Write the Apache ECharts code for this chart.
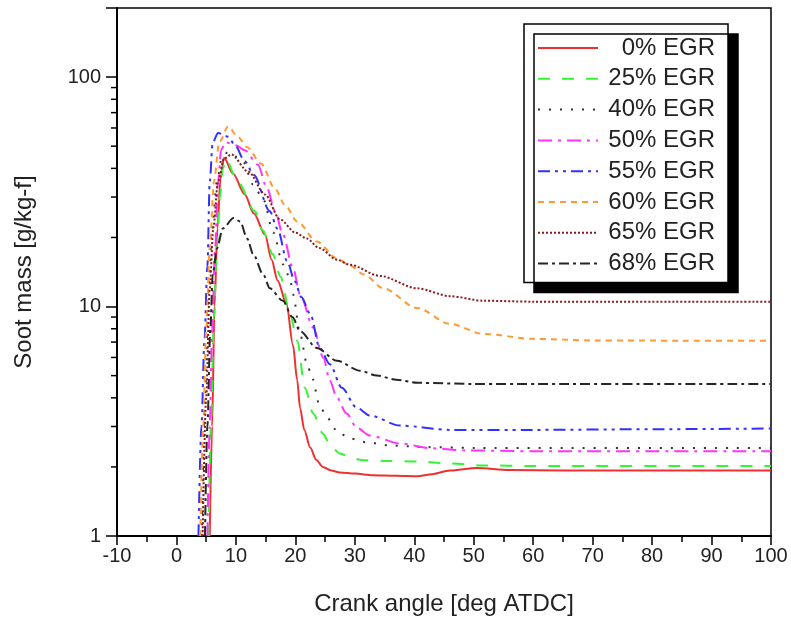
<!DOCTYPE html>
<html><head><meta charset="utf-8">
<script src="https://cdn.jsdelivr.net/npm/echarts@6/dist/echarts.min.js"></script>
<style>html,body{margin:0;padding:0;background:#fff}#c{width:791px;height:617px}</style>
</head><body><div id="c"></div>
<script>
const seriesNames = ['0% EGR','25% EGR','40% EGR','50% EGR','55% EGR','60% EGR','65% EGR','68% EGR'];
const xTicks = [-10,0,10,20,30,40,50,60,70,80,90,100];
const yMinorTicks = [2,3,4,5,6,7,8,9,20,30,40,50,60,70,80,90];

const egr0  = [[5.6,1],[6.0,3],[6.4,10],[6.9,22],[7.4,36],[8.0,44.5],[9.5,38],[11.5,30.8],[13,25.5],[14.9,20.6],[16,16],[17,13],[18.5,10.3],[19.6,6.8],[20.3,4.8],[20.8,3.6],[21.5,2.9],[22.5,2.43],[23.5,2.15],[24.6,2.0],[26,1.93],[27.5,1.89],[30,1.87],[33,1.84],[37,1.83],[40.5,1.82],[43,1.86],[46,1.93],[50.5,1.98],[56,1.94],[65,1.93],[100,1.93]];
const egr25 = [[5.4,1],[5.8,3],[6.3,9],[6.8,18],[7.3,30],[7.8,40],[8.3,44],[10.3,35],[13.2,26],[14.5,21.5],[16.2,16.9],[17.5,13.5],[19.1,9.3],[20.3,7.1],[21.6,4.43],[23,3.42],[24.6,2.8],[26,2.45],[27.5,2.29],[29.5,2.18],[31.4,2.14],[36,2.12],[40.5,2.11],[46,2.07],[51.6,2.03],[60,2.02],[100,2.02]];
const egr40 = [[4.3,1],[4.8,4],[5.4,12],[6.0,22],[6.8,35],[7.6,44],[8.6,47],[10,45],[11.2,42.8],[12.9,34],[14.6,29.3],[16.3,21],[17.9,15.3],[19.1,13.3],[19.6,11.3],[20.8,7.6],[21.9,5.7],[22.8,4.9],[24.1,3.7],[25.3,3.28],[27.2,2.83],[29.2,2.66],[32,2.56],[36,2.48],[42,2.44],[50,2.42],[100,2.42]];
const egr50 = [[5.2,1],[5.6,3],[6.0,8],[6.5,18],[7.0,35],[7.5,48],[8.2,52],[10,50.5],[11.5,48],[13.7,41.5],[15.2,33],[16.6,26],[17.9,20.6],[19.6,14.7],[20.8,11.3],[23,8.1],[24.7,6.0],[25.8,4.75],[27,4.0],[28.6,3.42],[30.3,2.97],[32.5,2.74],[37.6,2.53],[43,2.41],[48.8,2.36],[60,2.34],[100,2.34]];
const egr55 = [[3.7,1],[4.2,3],[4.7,7],[5.2,15],[5.6,35],[6.1,52],[7.0,57],[8.7,55],[9.8,50.6],[11.5,43],[13,37.5],[15.7,26],[17,21.8],[18.6,15.8],[19.9,12.9],[21,11],[22.5,9.3],[24.1,6.6],[25.8,5.6],[27.8,4.43],[30.3,3.63],[32.5,3.35],[37.6,3.03],[46,2.9],[60,2.9],[80,2.92],[100,2.94]];
const egr60 = [[4.0,1],[4.5,3],[5.0,8],[5.6,18],[6.3,35],[7.2,52],[8.7,61],[10.3,55],[11.9,49.5],[14.2,42],[16.6,32.6],[18.2,27.8],[20.3,23.5],[23.6,19.2],[27,16.2],[29.2,15.1],[31.5,13.8],[34.8,12],[40.5,9.85],[46,8.4],[51.6,7.6],[60,7.23],[70,7.12],[85,7.1],[100,7.1]];
const egr65 = [[4.4,1],[5.0,4],[5.6,12],[6.2,22],[7.0,35],[8.0,44],[9.2,46],[12.1,38.7],[14.9,30.8],[17.4,24],[20,21],[21.9,19.8],[24,18],[27,16.0],[29.2,15.2],[34.2,13.6],[40.5,12],[46,11.1],[51.6,10.6],[60,10.5],[100,10.5]];
const egr68 = [[4.8,1],[5.2,3],[5.7,8],[6.1,13.8],[6.8,17.9],[7.8,21.9],[9.6,24.3],[10.7,23.5],[11.9,19.8],[12.9,16.9],[14.6,13.8],[15.7,12],[17.9,10.6],[19.5,9],[20.8,7.8],[23.6,6.6],[27,5.8],[30.9,5.25],[33.7,5.0],[37,4.8],[40.5,4.65],[50,4.6],[100,4.6]];

const colors = ['#f03030','#33f533','#333333','#ff33ff','#3030ff','#ff9a33','#8b1a1a','#262626'];
const dashes = ['solid',[12,12],[2,9],[14,6,3,6],[12,5,3,5,3,5],[6,5],[2,2],[10,4,3,4]];
const datasets = [egr0,egr25,egr40,egr50,egr55,egr60,egr65,egr68];

const font = 'Liberation Sans, Arial, sans-serif';
const chart = echarts.init(document.getElementById('c'), null, {renderer:'canvas'});

const lineSeries = seriesNames.map((n,i)=>({
  name:n, type:'line', data:datasets[i], showSymbol:false, symbol:'none',
  smooth:0.3, smoothMonotone:'x',
  lineStyle:{color:colors[i], width:2, type:dashes[i]},
  itemStyle:{color:colors[i]}, z: 3
}));

chart.setOption({
  animation:false,
  grid:{left:117,right:20,top:8,bottom:81,containLabel:false,outerBoundsMode:'none',
    show:true,borderColor:'#000',borderWidth:1.5,backgroundColor:'transparent'},
  xAxis:{type:'value',min:-10,max:100,interval:10,
    name:'Crank angle [deg ATDC]',nameLocation:'middle',nameGap:56,
    nameTextStyle:{fontFamily:font,fontSize:24,color:'#222'},
    axisLine:{show:true,onZero:false,lineStyle:{color:'#000',width:2}},
    axisTick:{show:true,inside:false,length:9,lineStyle:{color:'#000',width:1.5}},
    minorTick:{show:true,splitNumber:2,length:6,lineStyle:{color:'#000',width:1.5}},
    splitLine:{show:false},
    axisLabel:{fontFamily:font,fontSize:20,color:'#222',margin:10,
      formatter:v=>xTicks.includes(v)?String(v):''}
  },
  yAxis:{type:'log',logBase:10,min:1,max:200,
    name:'Soot mass [g/kg-f]',nameLocation:'middle',nameGap:81,nameRotate:90,
    nameTextStyle:{fontFamily:font,fontSize:24,color:'#222'},
    axisLine:{show:true,onZero:false,lineStyle:{color:'#000',width:2}},
    axisTick:{show:true,inside:false,length:11,lineStyle:{color:'#000',width:1.5}},
    minorTick:{show:false},
    splitLine:{show:false},
    axisLabel:{fontFamily:font,fontSize:20,color:'#222',margin:16,
      formatter:v=>(v===1||v===10||v===100)?String(v):''}
  },
  legend:{
    data:seriesNames, orient:'vertical', left:524, top:24,
    padding:[12,13,7,13], itemGap:6.8, itemWidth:60, itemHeight:20,
    backgroundColor:'#fff', borderColor:'#000', borderWidth:1.5,
    shadowColor:'#000', shadowBlur:0, shadowOffsetX:10, shadowOffsetY:10,
    selectedMode:false,
    itemStyle:{opacity:0},
    formatter:n=>'{a|'+n+'}',
    textStyle:{fontFamily:font,fontSize:24,color:'#222',padding:[0,0,0,0],
      rich:{a:{fontFamily:font,fontSize:24,color:'#222',width:112,align:'right'}}}
  },
  series:[...lineSeries,{
    type:'custom', name:'minorY', silent:true, clip:false, z:5,
    data:yMinorTicks.map(v=>[-10,v]),
    renderItem:(params,api)=>{
      const p = api.coord([api.value(0), api.value(1)]);
      return {type:'line',shape:{x1:p[0]-6,y1:p[1],x2:p[0],y2:p[1]},style:{stroke:'#000',lineWidth:1.5}};
    }
  }]
});
</script></body></html>
